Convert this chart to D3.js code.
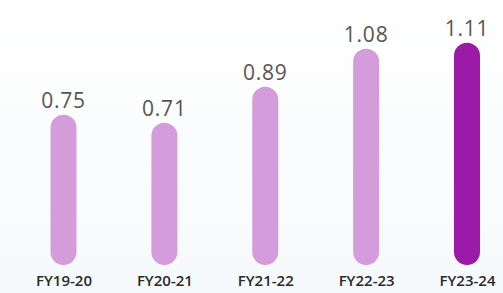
<!DOCTYPE html>
<html>
<head>
<meta charset="utf-8">
<script src="https://cdn.jsdelivr.net/npm/d3@7"></script>
<style>
  html, body { margin: 0; padding: 0; }
  body { width: 503px; height: 293px; overflow: hidden; }
  svg { display: block; font-family: "Open Sans", "Noto Sans", sans-serif; }
</style>
</head>
<body>
<svg width="503" height="293"></svg>
<script>
const years = ["FY19-20", "FY20-21", "FY21-22", "FY22-23", "FY23-24"]
const values = [0.75, 0.71, 0.89, 1.08, 1.11]
const labels = ["0.75", "0.71", "0.89", "1.08", "1.11"]

const width = 503
const height = 293

const svg = d3.select("svg")

const grad = svg.append("defs").append("linearGradient")
  .attr("id", "bg")
  .attr("x1", 0).attr("y1", 0).attr("x2", 0).attr("y2", 1)
grad.append("stop").attr("offset", "0%").attr("stop-color", "#ffffff")
grad.append("stop").attr("offset", "100%").attr("stop-color", "#f6f9fb")

svg.append("rect")
  .attr("width", width)
  .attr("height", height)
  .attr("fill", "url(#bg)")

// bar centres
const x = d3.scalePoint()
  .domain(years)
  .range([63.5, 467])

const y = d3.scaleLinear()
  .domain([0, 1.11])
  .range([265, 42.7])

const barW = 26

svg.selectAll(".bar")
  .data(years)
  .enter()
  .append("rect")
    .attr("class", "bar")
    .attr("x", d => x(d) - barW / 2)
    .attr("y", (d, i) => y(values[i]))
    .attr("width", barW)
    .attr("height", (d, i) => y(0) - y(values[i]))
    .attr("rx", barW / 2)
    .attr("fill", (d, i) => i === years.length - 1 ? "#9c1aa8" : "#d59cdb")

svg.selectAll(".val")
  .data(years)
  .enter()
  .append("text")
    .attr("class", "val")
    .attr("x", d => x(d))
    .attr("y", (d, i) => y(values[i]) - 7)
    .attr("text-anchor", "middle")
    .attr("font-size", 21)
    .attr("letter-spacing", 0.8)
    .attr("fill", "#555")
    .text((d, i) => labels[i])

const axis = d3.axisBottom(x).tickSize(0).tickPadding(0)

const g = svg.append("g")
  .attr("transform", "translate(0,275)")
  .call(axis)

g.select(".domain").remove()
g.selectAll("text")
  .attr("font-size", 15)
  .attr("font-weight", 600)
  .attr("font-family", "\"Open Sans\", \"Noto Sans\", sans-serif")
  .attr("fill", "#2a2a2a")
</script>
</body>
</html>
